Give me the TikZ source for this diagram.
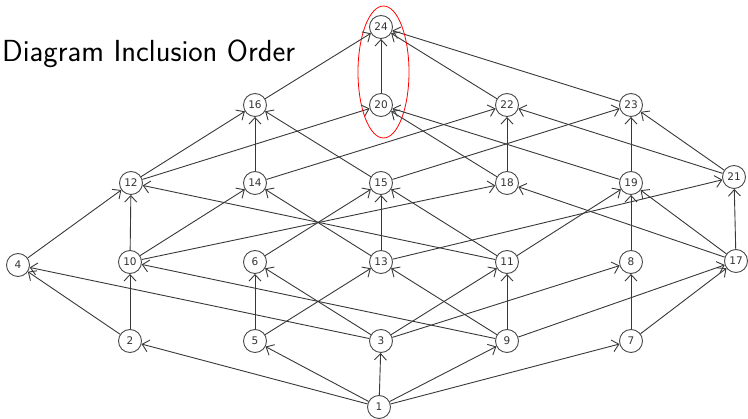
\documentclass[tikz,border=0pt]{standalone}
\usepackage{fontspec}
\newfontfamily\labelfont{DejaVu Sans}
\usetikzlibrary{arrows.meta}
\definecolor{edgegray}{HTML}{383838}
\definecolor{ringgray}{HTML}{4A4A4A}
\tikzset{
  elem/.style={circle, draw=ringgray, line width=0.9pt, fill=white,
    minimum size=23pt, inner sep=0pt, font=\labelfont\fontsize{10.5}{10.5}\selectfont, text=black!80},
  cover/.style={draw=edgegray, line width=0.9pt,
    -{Straight Barb[length=6.5pt,width=12pt,line width=0.9pt]}},
  highlight/.style={draw=red, line width=0.8pt}
}
\begin{document}
\begin{tikzpicture}[x=1pt,y=-1pt]
\useasboundingbox (0,0) rectangle (748,419);

\node[anchor=base west, inner sep=0pt, font=\sffamily\fontsize{30.5}{30.5}\selectfont] (title) at (2,62) {Diagram Inclusion Order};

% elements of the order, bottom to top
\node[elem] (n1)  at (379,407) {1};
\node[elem] (n2)  at (130,341) {2};
\node[elem] (n5)  at (255,341) {5};
\node[elem] (n3)  at (381,341) {3};
\node[elem] (n9)  at (507,341) {9};
\node[elem] (n7)  at (631,341) {7};
\node[elem] (n4)  at (18,265)  {4};
\node[elem] (n10) at (130,262) {10};
\node[elem] (n6)  at (255,262) {6};
\node[elem] (n13) at (381,262) {13};
\node[elem] (n11) at (507,262) {11};
\node[elem] (n8)  at (631,262) {8};
\node[elem] (n17) at (736,261) {17};
\node[elem] (n12) at (131,183) {12};
\node[elem] (n14) at (255,183) {14};
\node[elem] (n15) at (381,183) {15};
\node[elem] (n18) at (507,183) {18};
\node[elem] (n19) at (631,183) {19};
\node[elem] (n21) at (734,177) {21};
\node[elem] (n16) at (255,105) {16};
\node[elem] (n20) at (381,105) {20};
\node[elem] (n22) at (507,105) {22};
\node[elem] (n23) at (631,105) {23};
\node[elem] (n24) at (381,27)  {24};

% cover relations
\foreach \a/\b in {
  1/2, 1/5, 1/3, 1/9, 1/7,
  2/4, 2/10,
  5/6, 5/13,
  3/4, 3/6, 3/11, 3/8,
  9/10, 9/13, 9/11, 9/17,
  7/8, 7/17,
  4/12,
  10/12, 10/14, 10/18,
  6/15,
  13/14, 13/15, 13/21,
  11/12, 11/15, 11/19,
  8/19,
  17/18, 17/19, 17/21,
  12/16, 12/20,
  14/16, 14/22,
  15/16, 15/23,
  18/20, 18/22,
  19/20, 19/23,
  21/22, 21/23,
  16/24, 20/24, 22/24, 23/24}
  \draw[cover] (n\a) -- (n\b);

% marked chain 20 < 24
\draw[highlight] (383.5,72) ellipse [x radius=25.5, y radius=66];
\end{tikzpicture}
\end{document}
